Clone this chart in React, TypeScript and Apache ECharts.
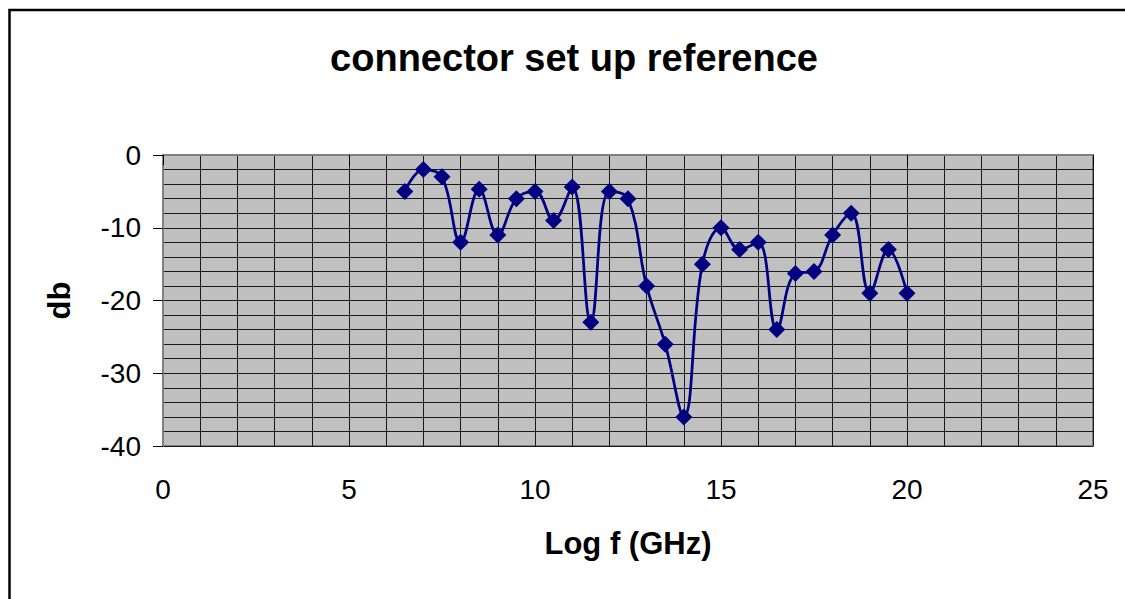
import React, { useEffect, useRef } from "react";
import * as echarts from "echarts";

const freqs = [6.5, 7, 7.5, 8, 8.5, 9, 9.5, 10, 10.5, 11, 11.5, 12, 12.5, 13, 13.5, 14, 14.5, 15, 15.5, 16, 16.5, 17, 17.5, 18, 18.5, 19, 19.5, 20];
const dbValues = [-5, -2, -3, -12, -4.7, -11, -6, -5, -9, -4.4, -23, -5, -6, -18, -26, -36, -15, -10, -13, -12, -24, -16.3, -16, -11, -8, -19, -13, -19];

const titleText = "connector set up reference";
const xName = "Log f (GHz)";
const yName = "db";

const FONT = "'Liberation Sans', Arial, sans-serif";

export default function App() {
  const ref = useRef<HTMLDivElement>(null);
  useEffect(() => {
    document.body.style.margin = "0";
    const chart = echarts.init(ref.current!, null, { renderer: "svg" });
    const data = freqs.map((f, i) => [f, dbValues[i]]);
    chart.setOption({
      animation: false,
      backgroundColor: "#ffffff",
      textStyle: { fontFamily: FONT },
      grid: {
        left: 163,
        top: 155,
        width: 930,
        height: 291,
        show: true,
        backgroundColor: "#C0C0C0",
        borderColor: "#808080",
        borderWidth: 2,
      },
      graphic: [
        {
          type: "rect",
          shape: { x: 9.5, y: 10, width: 1300, height: 800 },
          style: { fill: "none", stroke: "#000", lineWidth: 2.5 },
          silent: true,
        },
        {
          type: "text",
          x: 574,
          y: 58,
          style: {
            text: titleText,
            font: `bold 38px ${FONT}`,
            fill: "#000",
            textAlign: "center",
            textVerticalAlign: "middle",
          },
        },
      ],
      xAxis: {
        type: "value",
        min: 0,
        max: 25,
        interval: 5,
        name: xName,
        nameLocation: "middle",
        nameGap: 82,
        nameTextStyle: { fontSize: 31, fontWeight: "bold", color: "#000", fontFamily: FONT },
        axisLine: { show: true, lineStyle: { color: "#808080", width: 2 } },
        axisTick: { show: true, length: 10, lineStyle: { color: "#000", width: 1 } },
        axisLabel: { fontSize: 28, color: "#000", margin: 29, fontFamily: FONT },
        splitLine: { show: true, lineStyle: { color: "#1a1a1a", width: 1 } },
        minorTick: { show: false, splitNumber: 5 },
        minorSplitLine: { show: true, lineStyle: { color: "#1a1a1a", width: 1 } },
      },
      yAxis: {
        type: "value",
        min: -40,
        max: 0,
        interval: 10,
        name: yName,
        nameLocation: "middle",
        nameGap: 88,
        nameRotate: 90,
        nameTextStyle: { fontSize: 31, fontWeight: "bold", color: "#000", fontFamily: FONT },
        axisLine: { show: true, lineStyle: { color: "#808080", width: 2 } },
        axisTick: { show: true, length: 10, lineStyle: { color: "#000", width: 1 } },
        axisLabel: { fontSize: 28, color: "#000", margin: 22, fontFamily: FONT },
        splitLine: { show: true, lineStyle: { color: "#1a1a1a", width: 1 } },
        minorTick: { show: false, splitNumber: 5 },
        minorSplitLine: { show: true, lineStyle: { color: "#1a1a1a", width: 1 } },
      },
      series: [
        {
          type: "line",
          data,
          smooth: 0.4,
          symbol: "diamond",
          symbolSize: 17,
          lineStyle: { color: "#000080", width: 2.75 },
          itemStyle: { color: "#000080" },
        },
      ],
    });
    return () => chart.dispose();
  }, []);
  return <div ref={ref} style={{ width: 1125, height: 599 }} />;
}
